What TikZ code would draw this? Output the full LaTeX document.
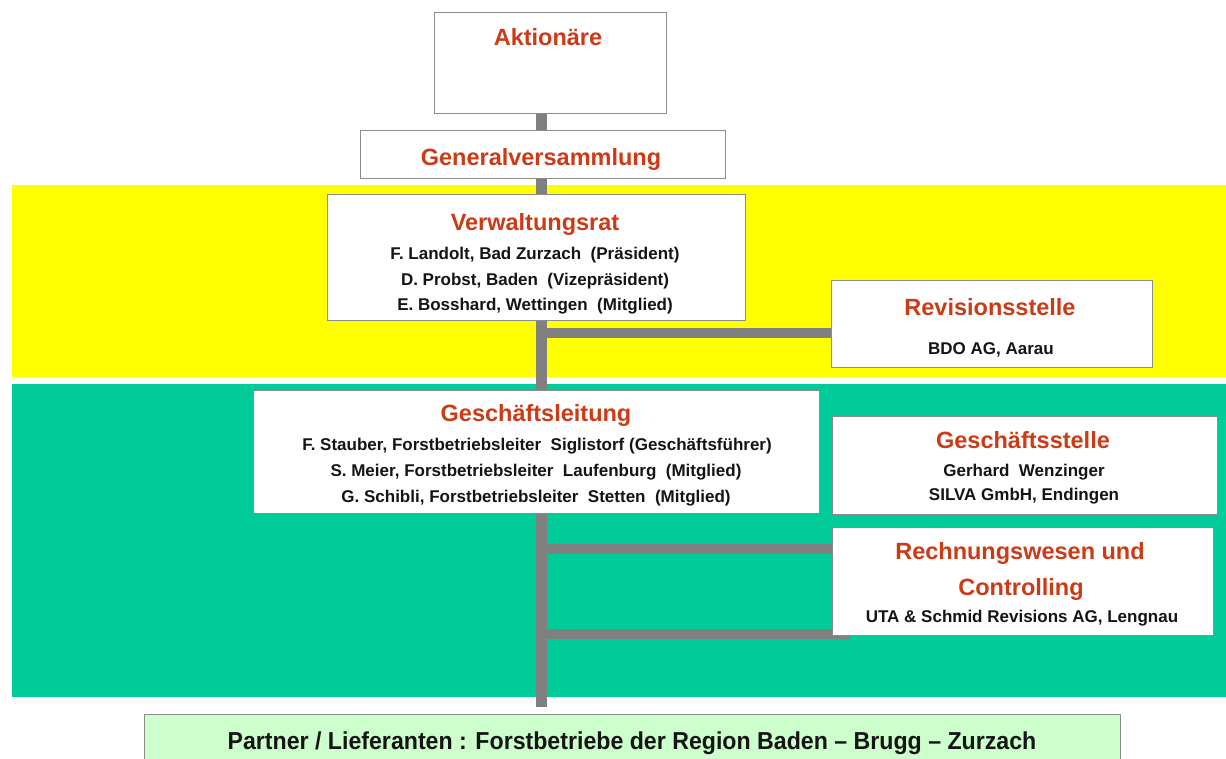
\documentclass[tikz,border=0pt]{standalone}
\usepackage{fontspec}
\setmainfont{Liberation Sans}
\definecolor{bandyellow}{RGB}{255,255,0}
\definecolor{bandteal}{RGB}{0,204,153}
\definecolor{linegray}{RGB}{128,128,128}
\definecolor{boxgray}{RGB}{140,140,140}
\definecolor{headred}{RGB}{204,58,22}
\definecolor{textdark}{RGB}{20,20,20}
\definecolor{partnergreen}{RGB}{204,255,204}
\pgfdeclarelayer{bands}
\pgfdeclarelayer{lines}
\pgfsetlayers{bands,lines,main}
\begin{document}
\begin{tikzpicture}[x=1pt,y=-1pt,
  orgbox/.style={draw=boxgray,line width=1pt,fill=white,inner sep=0pt,minimum width=#1},
  head/.style={text=headred,font=\bfseries\fontsize{23.5}{28}\selectfont,anchor=base,inner sep=0pt},
  subtext/.style={text=textdark,font=\bfseries\fontsize{17}{20}\selectfont,anchor=base,inner sep=0pt},
  trunkline/.style={draw=linegray,line width=11pt},
  branchline/.style={draw=linegray,line width=10pt},
  band/.style={draw=none}
]
\useasboundingbox (0,0) rectangle (1226,758);

% colour bands
\begin{pgfonlayer}{bands}
  \fill[bandyellow] (12,185) rectangle (1226,377);
  \fill[bandteal] (12,384) rectangle (1226,697);
\end{pgfonlayer}

% boxes
\node[orgbox=232pt,minimum height=101pt] (akt) at (550,62.5) {};
\node[orgbox=365pt,minimum height=48pt] (gv) at (542.5,154) {};
\node[orgbox=418pt,minimum height=126pt] (vr) at (536,257) {};
\node[orgbox=321pt,minimum height=87pt] (rev) at (991.5,323.5) {};
\node[orgbox=566pt,minimum height=123pt] (gl) at (536,451.5) {};
\node[orgbox=385pt,minimum height=98pt] (gs) at (1024.5,465) {};
\node[orgbox=381pt,minimum height=108pt] (rwc) at (1022.5,581) {};
\node[orgbox=976pt,minimum height=52pt,fill=partnergreen] (partner) at (632,740) {};

% texts
\node[head] (aktT) at (548,45) {Aktionäre};
\node[head] (gvT) at (541,165) {Generalversammlung};
\node[head] (vrT) at (535,230) {Verwaltungsrat};
\node[subtext] (vr1) at (535,259) {F. Landolt, Bad Zurzach\ \ (Präsident)};
\node[subtext] (vr2) at (535,285) {D. Probst, Baden\ \ (Vizepräsident)};
\node[subtext] (vr3) at (535,310) {E. Bosshard, Wettingen\ \ (Mitglied)};
\node[head] (revT) at (990,315) {Revisionsstelle};
\node[subtext] (rev1) at (991,354) {BDO AG, Aarau};
\node[head] (glT) at (536,421) {Geschäftsleitung};
\node[subtext] (gl1) at (537,450) {F. Stauber, Forstbetriebsleiter\ \ Siglistorf (Geschäftsführer)};
\node[subtext] (gl2) at (536,476) {S. Meier, Forstbetriebsleiter\ \ Laufenburg\ \ (Mitglied)};
\node[subtext] (gl3) at (536,502) {G. Schibli, Forstbetriebsleiter\ \ Stetten\ \ (Mitglied)};
\node[head] (gsT) at (1023,448) {Geschäftsstelle};
\node[subtext] (gs1) at (1024,476) {Gerhard\ \ Wenzinger};
\node[subtext] (gs2) at (1024,500) {SILVA GmbH, Endingen};
\node[head] (rwcT1) at (1020,559) {Rechnungswesen und};
\node[head] (rwcT2) at (1021,595) {Controlling};
\node[subtext] (rwc1) at (1022,622) {UTA \& Schmid Revisions AG, Lengnau};
\node[text=textdark,font=\bfseries\fontsize{24.5}{28}\selectfont,anchor=base,inner sep=0pt] (partnerT) at (632,749)
  {\scalebox{0.945}[1]{Partner / Lieferanten : Forstbetriebe der Region Baden – Brugg – Zurzach}};

% connectors
\coordinate (tx) at (541,0);
\coordinate (tend) at (541,707);
\coordinate (b1) at (541,333);
\coordinate (b2) at (541,549);
\coordinate (b3) at (541,634);
\coordinate (b3end) at (850,634);
\begin{pgfonlayer}{lines}
  \draw[trunkline] (tx |- akt.south) -- (tend);
  \draw[branchline] (b1) -- (b1 -| rev.west);
  \draw[branchline] (b2) -- (b2 -| rwc.west);
  \draw[branchline] (b3) -- (b3end);
\end{pgfonlayer}
\end{tikzpicture}
\end{document}
